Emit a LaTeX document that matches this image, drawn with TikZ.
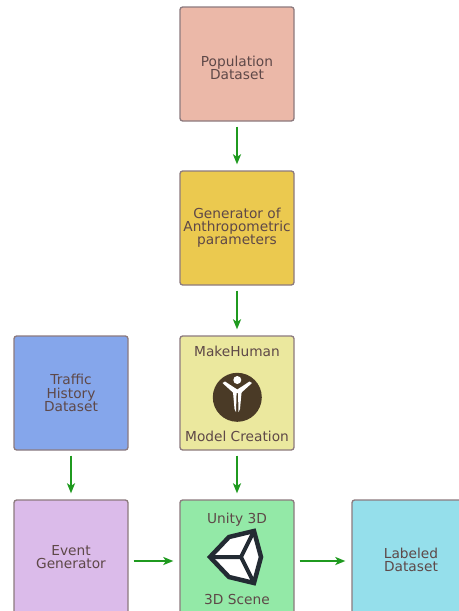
\documentclass[tikz,border=0pt]{standalone}
\usepackage{fontspec}
\setmainfont{DejaVu Sans}
\usetikzlibrary{arrows.meta}
\definecolor{txt}{HTML}{5E4848}
\definecolor{bord}{HTML}{8C7A7E}
\definecolor{cPop}{HTML}{EBB8A8}
\definecolor{cGen}{HTML}{EBC94F}
\definecolor{cMH}{HTML}{EBE89E}
\definecolor{cTr}{HTML}{85A6EB}
\definecolor{cEv}{HTML}{DBBBEA}
\definecolor{cUn}{HTML}{93E9A7}
\definecolor{cLa}{HTML}{95DFEB}
\definecolor{arr}{HTML}{1F9A1F}
\definecolor{mhdark}{HTML}{4A3A26}
\definecolor{undark}{HTML}{232B33}
\tikzset{
  box/.style={draw=bord, line width=1pt, rounded corners=2pt, minimum width=114*0.75pt, minimum height=114*0.75pt, inner sep=0pt, text=txt, align=center, font=\fontsize{10.3}{9.9}\selectfont},
  lbl/.style={text=txt, font=\fontsize{10.3}{9.9}\selectfont, inner sep=0pt},
  conn/.style={draw=arr, line width=1.3pt, -{Stealth[length=10*0.75pt, width=8*0.75pt, inset=2.5*0.75pt]}, shorten <=5*0.75pt, shorten >=6*0.75pt}
}
\begin{document}
\begin{tikzpicture}[x=0.75pt, y=-0.75pt]
\useasboundingbox (0,0) rectangle (458,611);
\node[box, fill=cPop] (pop) at (237,64) {};
\node[lbl, align=center] (popt) at (237,68) {Population\\Dataset};
\node[box, fill=cGen] (gen) at (237,228) {Generator of\\Anthropometric\\ parameters};
\node[box, fill=cMH] (mh) at (237,393) {};
\node[box, fill=cTr] (tr) at (71,393) {Traffic\\History\\Dataset};
\node[box, fill=cEv] (ev) at (71,557) {Event\\Generator};
\node[box, fill=cUn] (un) at (237,557) {};
\node[box, fill=cLa] (la) at (409,557) {};
\node[lbl, align=center] (lat) at (411,560) {Labeled\\Dataset};
\node[lbl] (mht) at (237,351) {MakeHuman};
\node[lbl] (mhb) at (237,436) {Model Creation};
\node[lbl] (unt) at (237,520) {Unity 3D};
\node[lbl] (unb) at (237,599) {3D Scene};
% MakeHuman icon
\fill[mhdark] (237.3,397.3) circle (24.5);
\fill[white] (237.3,380) circle (4);
\fill[white] (222.5,383) -- (225,381.5) -- (237.3,389.5) -- (249.5,381.5) -- (252,383) -- (241,393) -- (233.5,393) -- cycle;
\fill[white] (233,392) -- (236.6,392) -- (236,412) -- (234.5,409) -- cycle;
\fill[white] (238,392) -- (241.6,392) -- (240,409) -- (238.5,412) -- cycle;
% Unity icon
\filldraw[fill=white, draw=undark, line width=4.5*0.75pt, line join=miter] (210,557) -- (229,537) -- (254,531) -- (261,557) -- (254,583) -- (229,577) -- cycle;
\draw[undark, line width=4*0.75pt] (210,557) -- (241,557) -- (254,531);
\draw[undark, line width=4*0.75pt] (241,557) -- (254,583);
% connectors
\draw[conn] (pop) -- (gen);
\draw[conn] (gen) -- (mh);
\draw[conn] (mh) -- (un);
\draw[conn] (tr) -- (ev);
\draw[conn] ([yshift=-3pt]ev.east) -- ([yshift=-3pt]un.west);
\draw[conn] ([yshift=-3pt]un.east) -- ([yshift=-3pt]la.west);
\end{tikzpicture}
\end{document}
